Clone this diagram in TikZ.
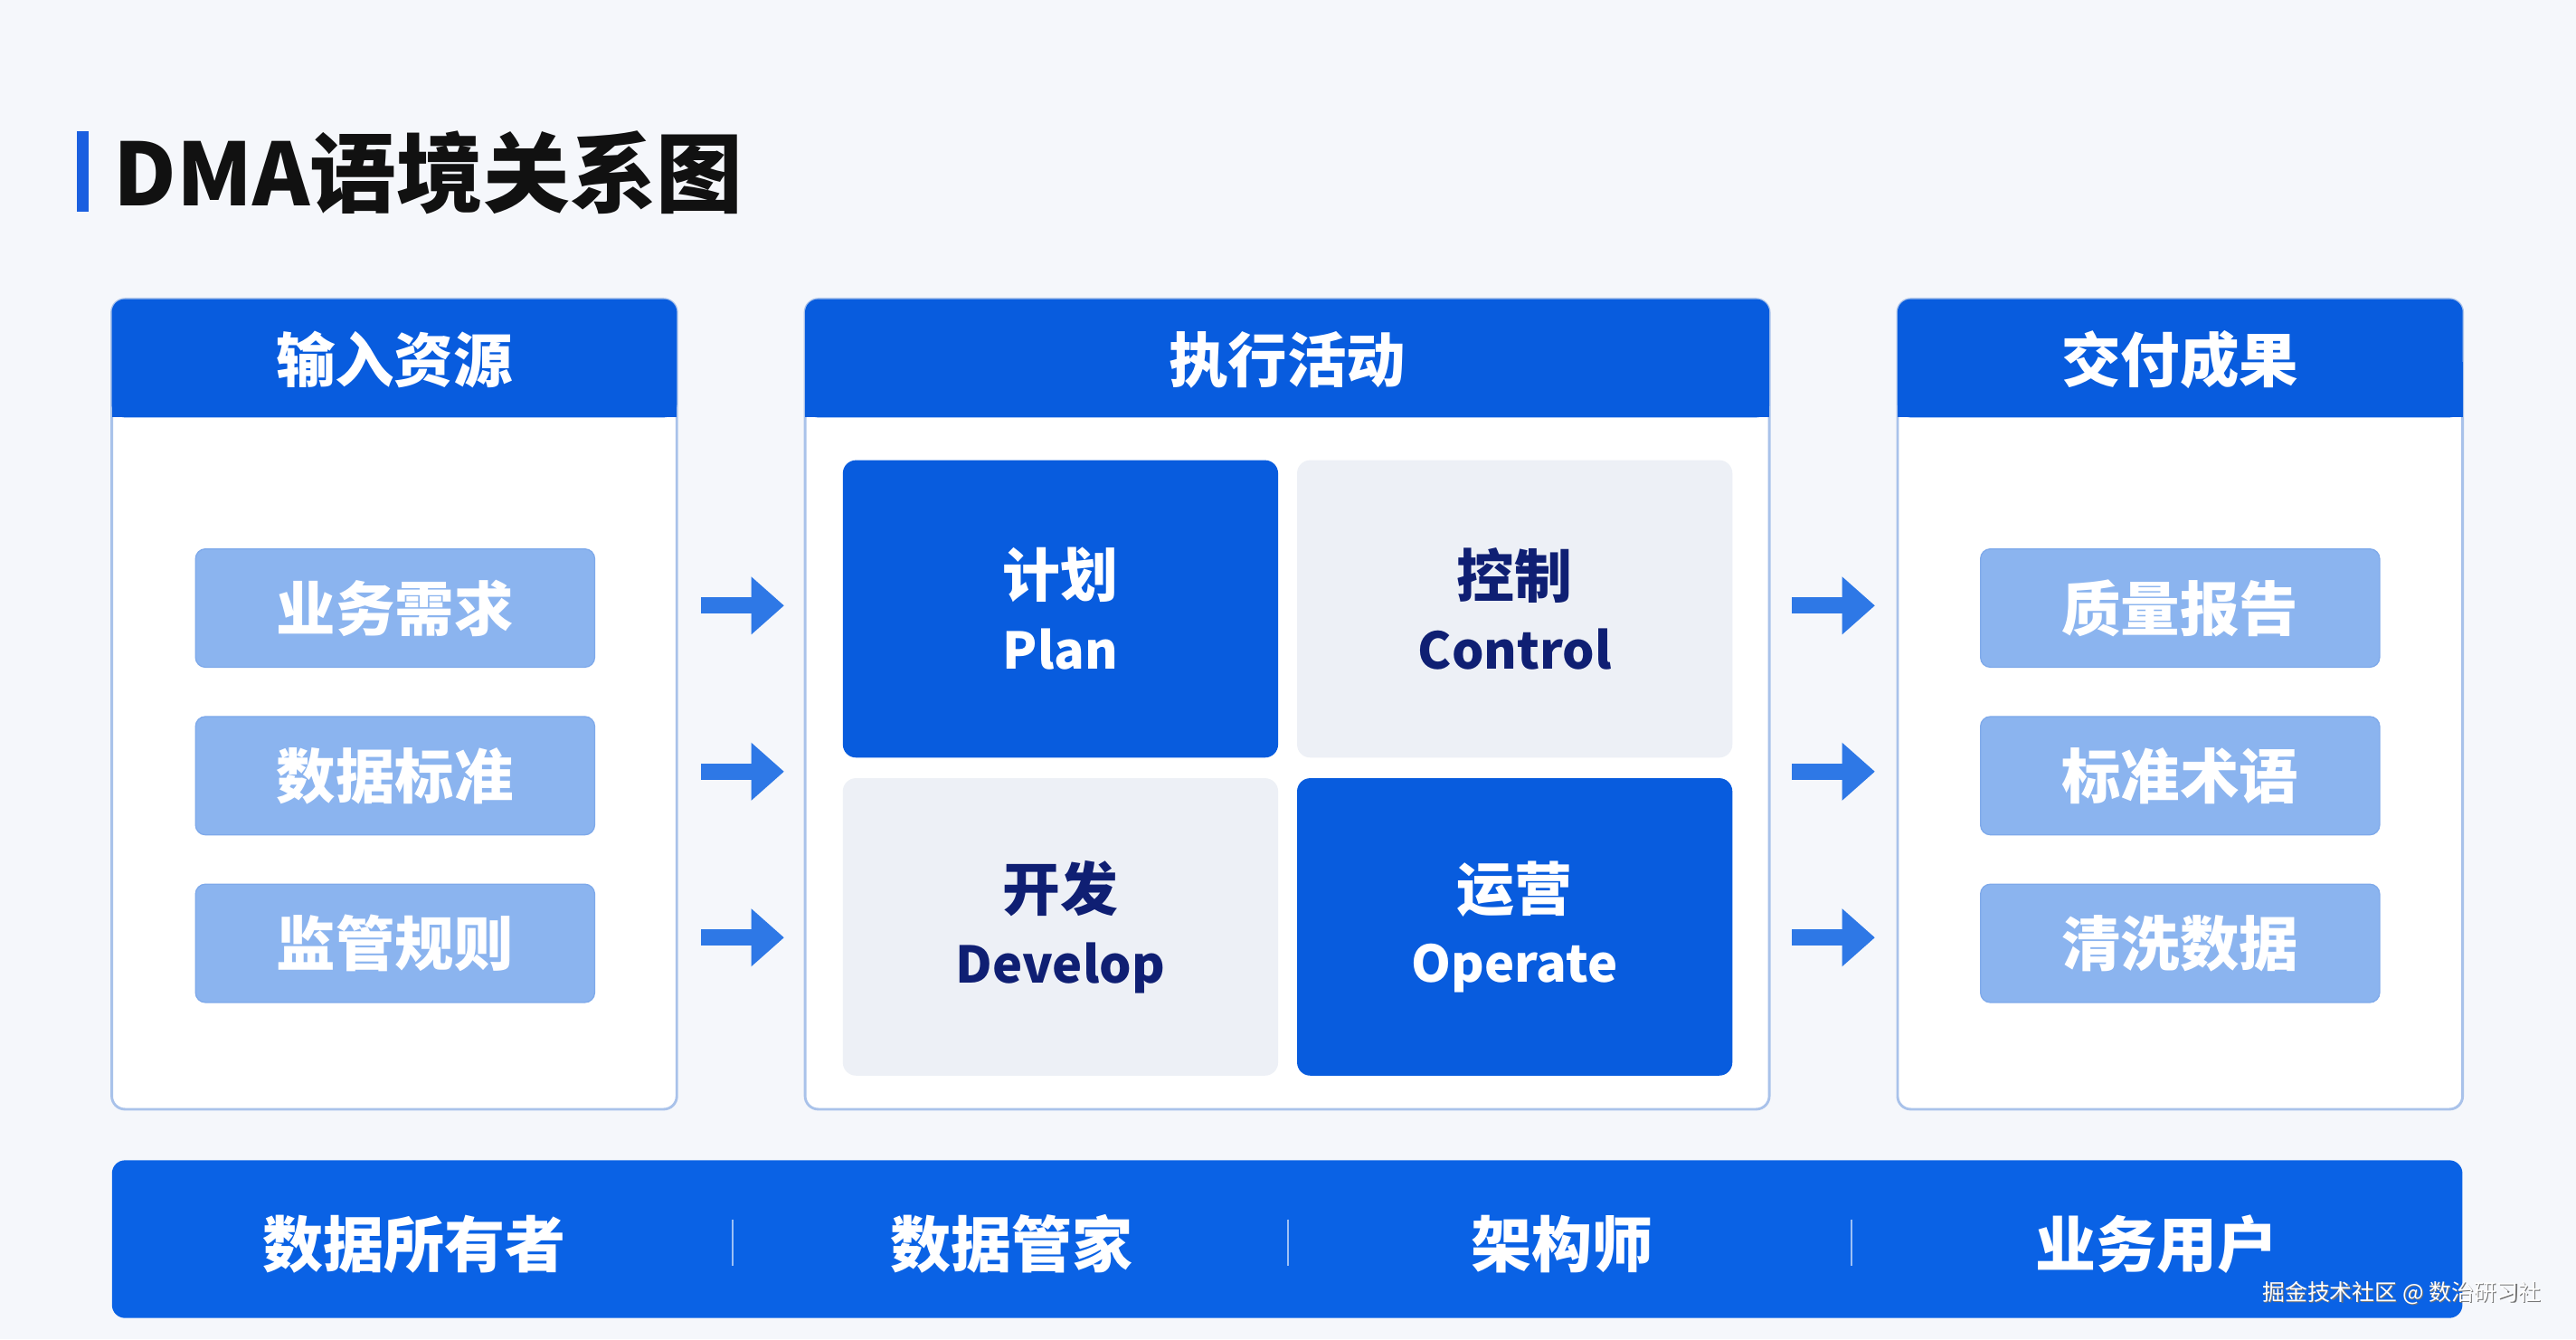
\documentclass[tikz,border=0pt]{standalone}
\usepackage{fontspec}
\setmainfont{Noto Sans CJK SC}
\usetikzlibrary{arrows.meta,positioning}

\definecolor{bgcol}{HTML}{F5F7FB}
\definecolor{hdblue}{HTML}{085CDE}
\definecolor{barblue}{HTML}{0A62E5}
\definecolor{edgeblue}{HTML}{A9C2EA}
\definecolor{itemblue}{HTML}{8BB4EF}
\definecolor{itemedge}{HTML}{7EA9EA}
\definecolor{quadgray}{HTML}{EDF0F6}
\definecolor{navy}{HTML}{0F1F73}
\definecolor{arrowblue}{HTML}{2E78E6}
\definecolor{titleblue}{HTML}{1A5FE0}
\definecolor{titleblack}{HTML}{111111}

\newcommand{\engl}[1]{{\fontsize{17.5}{25}\selectfont #1}}

\begin{document}
\begin{tikzpicture}[x=0.02cm,y=-0.02cm,
  every node/.style={inner sep=0pt},
  panel/.style={draw=edgeblue,line width=0.9pt,fill=white,rounded corners=0.16cm,minimum height=9.86cm},
  hdtext/.style={text=white,font=\bfseries\fontsize{20.5}{24}\selectfont},
  item/.style={fill=itemblue,draw=itemedge,line width=0.4pt,rounded corners=0.12cm,minimum width=4.86cm,minimum height=1.44cm,text=white,font=\bfseries\fontsize{20.5}{24}\selectfont},
  quad/.style={rounded corners=0.16cm,minimum width=5.3cm,minimum height=3.62cm,align=center,font=\bfseries\fontsize{20}{25}\selectfont},
  darkquad/.style={quad,fill=hdblue,text=white},
  lightquad/.style={quad,fill=quadgray,text=navy},
  role/.style={text=white,font=\bfseries\fontsize{21}{24}\selectfont},
  flow/.style={arrowblue,line width=0.2cm,-{Triangle[length=0.4cm,width=0.68cm]}}
]
  \useasboundingbox (0,0) rectangle (1568,815);
  \fill[bgcol] (0,0) rectangle (1568,815);

  % title
  \fill[titleblue] (47,80) rectangle (54,129);
  \node[anchor=west,text=titleblack,font=\bfseries\fontsize{30}{34}\selectfont] (title) at (69,105) {DMA语境关系图};

  % three panels
  \node[panel,minimum width=6.88cm] (inpanel) at (240,428.5) {};
  \node[panel,minimum width=11.74cm] (actpanel) at (783.5,428.5) {};
  \node[panel,minimum width=6.88cm] (outpanel) at (1327,428.5) {};

  \fill[hdblue,rounded corners=0.16cm] (68,182) rectangle (412,254);
  \fill[hdblue] (68,220) rectangle (412,254);
  \fill[hdblue,rounded corners=0.16cm] (490,182) rectangle (1077,254);
  \fill[hdblue] (490,220) rectangle (1077,254);
  \fill[hdblue,rounded corners=0.16cm] (1155,182) rectangle (1499,254);
  \fill[hdblue] (1155,220) rectangle (1499,254);
  \node[hdtext] (inhd) at (240,219) {输入资源};
  \node[hdtext] (acthd) at (783.5,219) {执行活动};
  \node[hdtext] (outhd) at (1327,219) {交付成果};

  % inputs
  \node[item] (req) at (240.5,370) {业务需求};
  \node[item] (std) at (240.5,472) {数据标准};
  \node[item] (rule) at (240.5,574) {监管规则};

  % activities
  \node[darkquad] (plan) at (645.5,370.5) {计划\\\engl{Plan}};
  \node[lightquad] (ctrl) at (922,370.5) {控制\\\engl{Control}};
  \node[lightquad] (dev) at (645.5,564) {开发\\\engl{Develop}};
  \node[darkquad] (ops) at (922,564) {运营\\\engl{Operate}};

  % outputs
  \node[item] (rep) at (1327,370) {质量报告};
  \node[item] (term) at (1327,472) {标准术语};
  \node[item] (clean) at (1327,574) {清洗数据};

  % arrows
  \draw[flow,shorten <=0.28cm,shorten >=0.24cm] ([yshift=0.03cm]inpanel.east |- req) -- ([yshift=0.03cm]actpanel.west |- req);
  \draw[flow,shorten <=0.28cm,shorten >=0.24cm] ([yshift=0.05cm]inpanel.east |- std) -- ([yshift=0.05cm]actpanel.west |- std);
  \draw[flow,shorten <=0.28cm,shorten >=0.24cm] ([yshift=0.07cm]inpanel.east |- rule) -- ([yshift=0.07cm]actpanel.west |- rule);
  \draw[flow,shorten <=0.26cm,shorten >=0.26cm] ([yshift=0.03cm]actpanel.east |- rep) -- ([yshift=0.03cm]outpanel.west |- rep);
  \draw[flow,shorten <=0.26cm,shorten >=0.26cm] ([yshift=0.05cm]actpanel.east |- term) -- ([yshift=0.05cm]outpanel.west |- term);
  \draw[flow,shorten <=0.26cm,shorten >=0.26cm] ([yshift=0.07cm]actpanel.east |- clean) -- ([yshift=0.07cm]outpanel.west |- clean);

  % roles bar
  \node[fill=barblue,rounded corners=0.16cm,minimum width=28.62cm,minimum height=1.92cm] (roles) at (783.5,754) {};
  \node[role] (owner) at (252,757) {数据所有者};
  \node[role] (steward) at (616,757) {数据管家};
  \node[role] (arch) at (951,757) {架构师};
  \node[role] (user) at (1313,757) {业务用户};
  \draw[white!60!barblue,line width=0.6pt] (446,742) -- (446,770);
  \draw[white!60!barblue,line width=0.6pt] (784,742) -- (784,770);
  \draw[white!60!barblue,line width=0.6pt] (1127,742) -- (1127,770);

  % watermark
  \node[text=black!55,font=\fontsize{7.8}{9}\selectfont] (markshade) at (1462.6,787.6) {掘金技术社区 @ 数治研习社};
  \node[text=white,font=\fontsize{7.8}{9}\selectfont] (mark) at (1462,787) {掘金技术社区 @ 数治研习社};
\end{tikzpicture}
\end{document}
